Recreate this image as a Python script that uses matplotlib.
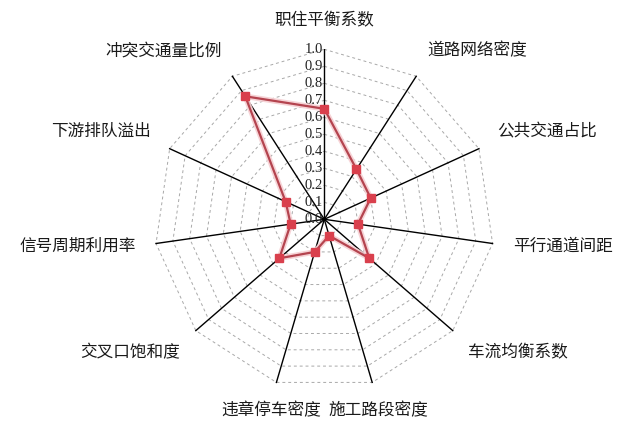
import numpy as np
import matplotlib
matplotlib.use("Agg")
import matplotlib.pyplot as plt

plt.rcParams['font.family'] = ['Noto Sans CJK SC', 'DejaVu Sans']

categories = ["职住平衡系数", "道路网络密度", "公共交通占比", "平行通道间距", "车流均衡系数",
              "施工路段密度", "违章停车密度", "交叉口饱和度", "信号周期利用率", "下游排队溢出",
              "冲突交通量比例"]
values = [0.65, 0.35, 0.30, 0.20, 0.35, 0.10, 0.20, 0.35, 0.20, 0.25, 0.86]
ticks = [0.0, 0.1, 0.2, 0.3, 0.4, 0.5, 0.6, 0.7, 0.8, 0.9, 1.0]
tick_labels = ["0.0", "0.1", "0.2", "0.3", "0.4", "0.5", "0.6", "0.7", "0.8", "0.9", "1.0"]

W, H = 632, 432
fig = plt.figure(figsize=(W / 100, H / 100), dpi=100)
cx, cy, R = 324.3, 219.3, 170.0
ax = fig.add_axes([(cx - R) / W, (H - cy - R) / H, 2 * R / W, 2 * R / H])
ax.set_xlim(-1, 1)
ax.set_ylim(-1, 1)
ax.set_aspect('equal')
ax.axis('off')

n = len(categories)
theta = np.arange(n) * 2 * np.pi / n
sx, sy = np.sin(theta), np.cos(theta)

# polygon grid
for t in ticks[1:]:
    gx = np.append(t * sx, t * sx[0])
    gy = np.append(t * sy, t * sy[0])
    ax.plot(gx, gy, color='#a8a8a8', lw=0.7, ls=(0, (3, 3)), zorder=1)

# spokes
for i in range(n):
    ax.plot([0, sx[i]], [0, sy[i]], color='black', lw=1.0, zorder=2)

# tick labels along top axis
for t, lab in zip(ticks, tick_labels):
    ax.text(-0.01, t, lab, ha='right', va='center', fontsize=10.5,
            family='Liberation Serif', color='#222222', zorder=3)

# data
v = np.array(values)
px = np.append(v * sx, v[0] * sx[0])
py = np.append(v * sy, v[0] * sy[0])
ax.plot(px, py, color='#f6cfd2', lw=4, alpha=0.9, zorder=4, solid_joinstyle='round')
ax.plot(px, py, color='#b4444f', lw=1.6, zorder=5)
ax.plot(v * sx, v * sy, ls='none', marker='s', ms=5.5, color='#d9404d',
        markeredgecolor='#d9404d', zorder=6)

# category labels
rl = 1.12
for i, lab in enumerate(categories):
    s, c = sx[i], sy[i]
    ha = 'left' if s > 0.4 else ('right' if s < -0.4 else 'center')
    va = 'bottom' if c > 0.3 else ('top' if c < -0.3 else 'center')
    ax.text(rl * s, rl * c, lab, ha=ha, va=va, fontsize=12, color='#1a1a1a',
            clip_on=False)

fig.savefig('out.png', dpi=100)
